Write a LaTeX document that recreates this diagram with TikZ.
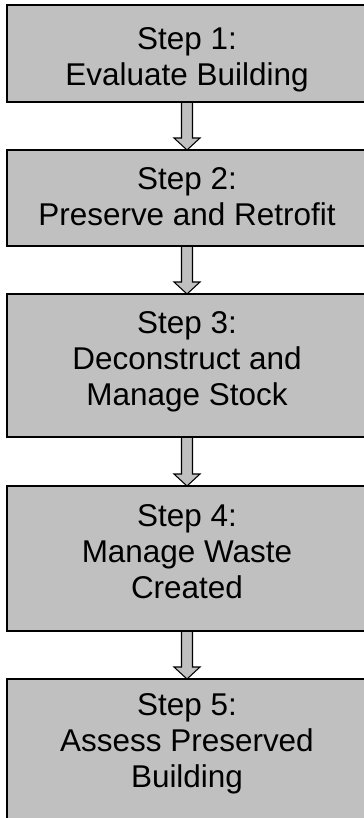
\documentclass[tikz,border=0pt]{standalone}
\usepackage{fontspec}
\setmainfont{Liberation Sans}
\usetikzlibrary{calc}
\definecolor{boxgray}{RGB}{192,192,192}
\begin{document}
\begin{tikzpicture}[x=0.75pt,y=-0.75pt,
  stepbox/.style={draw=black, line width=1pt, fill=boxgray, rectangle,
    minimum width=270pt, inner sep=0pt, outer sep=0pt},
  steptext/.style={anchor=base, align=center, inner sep=0pt,
    font=\fontsize{23.6}{27}\selectfont},
  flowarrow/.style={draw=black, line width=0.8pt, fill=boxgray, line join=miter}]
\useasboundingbox (0,0) rectangle (364,818);
\clip (0,0) rectangle (364,818);
% boxes (coordinates in px, y downwards)
\path (187,53.5) node[stepbox, minimum height=72.75pt] (b1) {};
\path (187,198) node[stepbox, minimum height=72pt] (b2) {};
\path (187,365.5) node[stepbox, minimum height=107.25pt] (b3) {};
\path (187,558.5) node[stepbox, minimum height=108.75pt] (b4) {};
\path (187,751) node[stepbox, minimum height=108pt] (b5) {};
% arrows
\foreach \a/\b in {b1/b2,b2/b3,b3/b4,b4/b5}{
  \draw[flowarrow] ($(\a.south)+(-5.5,0)$) -- ($(\b.north)+(-5.5,-12)$)
    -- ($(\b.north)+(-13,-12)$) -- (\b.north) -- ($(\b.north)+(13,-12)$)
    -- ($(\b.north)+(5.5,-12)$) -- ($(\a.south)+(5.5,0)$);
}
% redraw box borders over arrow ends
\foreach \n in {b1,b2,b3,b4,b5}{
  \draw[line width=1pt] (\n.south west) rectangle (\n.north east);
}
% texts (anchored at the baseline of the last line)
\node[steptext] (t1) at (187,85) {Step 1:\\Evaluate Building};
\node[steptext] (t2) at (187,225) {Step 2:\\Preserve and Retrofit};
\node[steptext] (t3) at (187,405.5) {Step 3:\\Deconstruct and\\Manage Stock};
\node[steptext] (t4) at (187,598.3) {Step 4:\\Manage Waste\\Created};
\node[steptext] (t5) at (187,787) {Step 5:\\Assess Preserved\\Building};
\end{tikzpicture}
\end{document}
